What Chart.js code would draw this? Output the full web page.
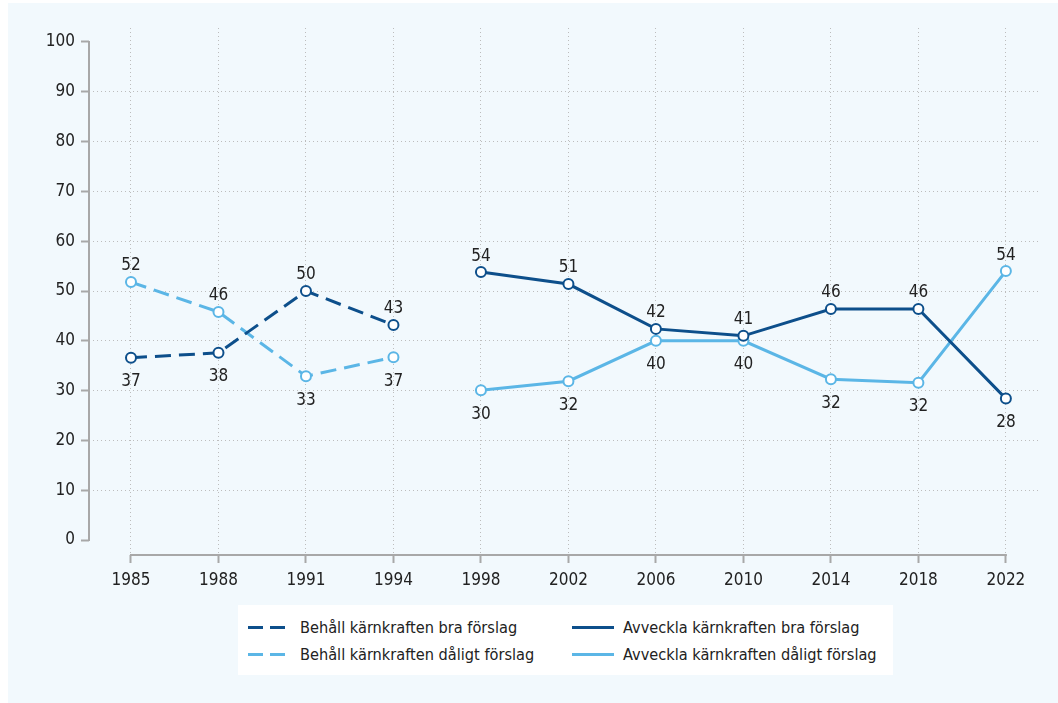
<!DOCTYPE html>
<html>
<head>
<meta charset="utf-8">
<script src="https://cdn.jsdelivr.net/npm/chart.js@4/dist/chart.umd.min.js"></script>
<style>
  html, body { margin: 0; padding: 0; background: #ffffff; }
  body { width: 1058px; height: 703px; position: relative; overflow: hidden;
         font-family: "Liberation Sans Narrow", "DejaVu Sans Condensed", Roboto, sans-serif; }
  #panel { position: absolute; left: 8px; top: 3px; width: 1050px; height: 700px; background: #f2f9fd; }
  #wrap { position: absolute; left: 0; top: 0; width: 1058px; height: 703px; }
  #legend { position: absolute; left: 238px; top: 605px; width: 655px; height: 70px; background: #ffffff; }
  .item { position: absolute; height: 24px; line-height: 24px; font-size: 16.2px; color: #222; white-space: nowrap; }
  .swatch { position: absolute; top: 10px; width: 36px; height: 3px; }
  .item span { position: absolute; left: 52px; }
</style>
</head>
<body>
<div id="panel"></div>
<div id="wrap"><canvas id="myChart" width="1058" height="703"></canvas></div>
<div id="legend"></div>
<script>
const FONT = '"Liberation Sans Narrow", "DejaVu Sans Condensed", Roboto, sans-serif';

const years = ["1985", "1988", "1991", "1994", "1998", "2002", "2006", "2010", "2014", "2018", "2022"];
const yTicks = [0, 10, 20, 30, 40, 50, 60, 70, 80, 90, 100];

// values (null = no survey question that year)
const behallBra = [36.6, 37.6, 50.0, 43.2, null, null, null, null, null, null, null];
const behallDaligt = [51.8, 45.8, 32.9, 36.7, null, null, null, null, null, null, null];
const avvecklaBra = [null, null, null, null, 53.8, 51.4, 42.4, 41.0, 46.4, 46.4, 28.4];
const avvecklaDaligt = [null, null, null, null, 30.1, 31.9, 40.0, 40.0, 32.3, 31.6, 54.0];

const DARK = "#0d4f8b";
const LIGHT = "#5bb6e6";

function toPoints(arr) {
  return arr.map((v, i) => ({ x: i, y: v }));
}

function series(label, values, color, dashed) {
  return {
    label: label,
    data: toPoints(values),
    borderColor: color,
    backgroundColor: "#ffffff",
    borderWidth: 3,
    borderDash: dashed ? [16, 8] : [],
    pointRadius: 5,
    pointHoverRadius: 5,
    pointBorderWidth: 2,
    pointBackgroundColor: "#ffffff",
    pointBorderColor: color,
    spanGaps: false,
    fill: false,
    tension: 0,
    dashed: dashed
  };
}

const datasets = [
  series("Behåll kärnkraften bra förslag", behallBra, DARK, true),
  series("Behåll kärnkraften dåligt förslag", behallDaligt, LIGHT, true),
  series("Avveckla kärnkraften bra förslag", avvecklaBra, DARK, false),
  series("Avveckla kärnkraften dåligt förslag", avvecklaDaligt, LIGHT, false)
];

// axis lines only span the data range, offset from the plot edges
const axisLines = {
  id: "axisLines",
  beforeDatasetsDraw(chart) {
    const { ctx, chartArea, scales } = chart;
    ctx.save();
    ctx.strokeStyle = "#a8a8a8";
    ctx.lineWidth = 2;
    ctx.beginPath();
    ctx.moveTo(scales.x.getPixelForValue(0) - 1, chartArea.bottom);
    ctx.lineTo(scales.x.getPixelForValue(years.length - 1) + 1, chartArea.bottom);
    ctx.moveTo(chartArea.left, scales.y.getPixelForValue(0) + 1);
    ctx.lineTo(chartArea.left, scales.y.getPixelForValue(100) - 1);
    ctx.stroke();
    ctx.restore();
  }
};

// value labels, above the point when it is the higher of the pair, else below
const valueLabels = {
  id: "valueLabels",
  afterDatasetsDraw(chart) {
    const { ctx } = chart;
    ctx.save();
    ctx.font = "17px " + FONT;
    ctx.fillStyle = "#222222";
    ctx.textAlign = "center";
    ctx.textBaseline = "middle";
    chart.data.datasets.forEach((ds, di) => {
      const meta = chart.getDatasetMeta(di);
      ds.data.forEach((p, i) => {
        if (p.y === null) return;
        let other = null;
        chart.data.datasets.forEach((o, oi) => {
          if (oi !== di && o.data[i].y !== null) other = o.data[i].y;
        });
        const above = other === null || p.y > other;
        const el = meta.data[i];
        ctx.fillText(String(Math.round(p.y)), el.x, above ? el.y - 16 : el.y + 24);
      });
    });
    ctx.restore();
  }
};

new Chart(document.getElementById("myChart").getContext("2d"), {
  type: "line",
  data: { datasets: datasets },
  options: {
    responsive: false,
    animation: false,
    events: [],
    layout: { padding: { top: 28, right: 18, left: 0, bottom: 0 } },
    plugins: {
      legend: { display: false },
      tooltip: { enabled: false }
    },
    scales: {
      x: {
        type: "linear",
        min: -0.48,
        max: 10.39,
        afterBuildTicks: scale => {
          scale.ticks = years.map((y, i) => ({ value: i }));
        },
        afterFit: scale => {
          scale.height = 148;
        },
        ticks: {
          autoSkip: false,
          maxRotation: 0,
          padding: 7,
          color: "#222222",
          font: { family: FONT, size: 17 },
          callback: v => years[v]
        },
        grid: {
          color: "#bdbdbd",
          lineWidth: 1,
          tickLength: 8,
          tickColor: "#a8a8a8",
          tickWidth: 2
        },
        border: { display: false, dash: [1, 3] }
      },
      y: {
        min: -3,
        max: 102.81,
        afterBuildTicks: scale => {
          scale.ticks = yTicks.map(v => ({ value: v }));
        },
        afterFit: scale => {
          scale.width = 89;
        },
        ticks: {
          padding: 6,
          color: "#222222",
          font: { family: FONT, size: 17 }
        },
        grid: {
          color: c => (c.tick && c.tick.value > 0 && c.tick.value < 100 ? "#bdbdbd" : "rgba(0,0,0,0)"),
          lineWidth: 1,
          tickLength: 8,
          tickColor: "#a8a8a8",
          tickWidth: 2
        },
        border: { display: false, dash: [1, 3] }
      }
    }
  },
  plugins: [axisLines, valueLabels]
});

// legend in two columns: Behåll on the left, Avveckla on the right
const legendPos = [
  { left: 10, top: 11 },
  { left: 10, top: 38 },
  { left: 334, top: 11 },
  { left: 334, top: 38 }
];
const legendEl = document.getElementById("legend");
datasets.forEach((ds, i) => {
  const item = document.createElement("div");
  item.className = "item";
  item.style.left = legendPos[i].left + "px";
  item.style.top = legendPos[i].top + "px";
  const sw = document.createElement("div");
  sw.className = "swatch";
  sw.style.background = ds.dashed
    ? "repeating-linear-gradient(to right, " + ds.borderColor + " 0 15px, transparent 15px 22px)"
    : ds.borderColor;
  sw.style.width = ds.dashed ? "37px" : "42px";
  sw.style.left = "0px";
  const txt = document.createElement("span");
  txt.textContent = ds.label;
  txt.style.left = ds.dashed ? "52px" : "51px";
  item.appendChild(sw);
  item.appendChild(txt);
  legendEl.appendChild(item);
});
</script>
</body>
</html>
